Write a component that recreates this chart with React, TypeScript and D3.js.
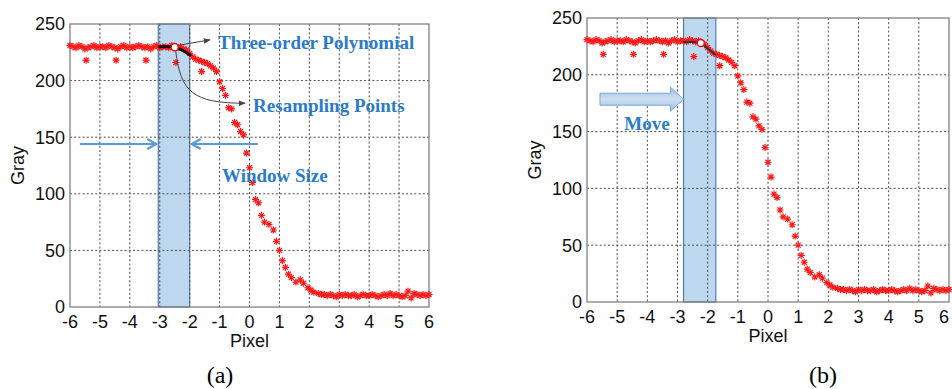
import * as d3 from 'd3';

// edge profile samples (same data in both panels)
const pixel = [
  -6.0, -5.9, -5.8, -5.7, -5.6, -5.5, -5.46, -5.4, -5.3, -5.2,
  -5.1, -5.0, -4.9, -4.8, -4.7, -4.6, -4.5, -4.46, -4.4, -4.3,
  -4.2, -4.1, -4.0, -3.9, -3.8, -3.7, -3.6, -3.5, -3.46, -3.4,
  -3.3, -3.2, -3.1, -3.0, -2.9, -2.8, -2.7, -2.6, -2.5, -2.46,
  -2.4, -2.3, -2.2, -2.1, -2.0, -1.9, -1.8, -1.7, -1.6, -1.6,
  -1.5, -1.4, -1.3, -1.2, -1.1, -1.0, -0.9, -0.8, -0.7, -0.6,
  -0.5, -0.4, -0.3, -0.2, -0.1, 0.0, 0.1, 0.2, 0.3, 0.4,
  0.5, 0.65, 0.8, 0.9, 1.0, 1.1, 1.2, 1.3, 1.4, 1.55,
  1.7, 1.8, 1.95, 2.05, 2.15, 2.3, 2.4, 2.5, 2.6, 2.7,
  2.8, 2.9, 3.0, 3.1, 3.2, 3.3, 3.4, 3.5, 3.6, 3.7,
  3.8, 3.9, 4.0, 4.1, 4.2, 4.3, 4.4, 4.5, 4.6, 4.7,
  4.8, 4.9, 5.0, 5.1, 5.2, 5.3, 5.4, 5.5, 5.6, 5.7,
  5.8, 5.9, 6.0,
];
const gray = [
  231, 230, 229, 231, 230, 228, 218, 229, 230, 231,
  229, 230, 230, 229, 231, 230, 229, 218, 228, 230,
  231, 229, 230, 229, 230, 231, 230, 229, 218, 230,
  228, 230, 231, 229, 230, 230, 229, 231, 230, 216,
  229, 230, 228, 227, 224, 221, 219, 218, 217, 208,
  216, 215, 213, 211, 208, 199, 193, 187, 176, 175,
  163, 161, 155, 152, 136, 123, 110, 95, 92, 81,
  75, 73, 68, 58, 50, 41, 35, 29, 26, 22,
  24, 21, 17, 15, 13, 12, 11, 11, 10, 11,
  10, 9, 11, 10, 11, 10, 10, 11, 9, 10,
  11, 10, 10, 11, 10, 9, 10, 11, 10, 12,
  10, 11, 10, 9, 10, 14, 8, 12, 11, 10,
  11, 10, 11,
];

const xTicks = [-6, -5, -4, -3, -2, -1, 0, 1, 2, 3, 4, 5, 6];
const yTicks = [0, 50, 100, 150, 200, 250];

// three-order polynomial fit inside the window
const fitPixelA = [-3.05, -2.55, -2.5, -2.25, -1.95];
const fitGrayA = [230, 230, 229.5, 227, 222];
const fitPixelB = [-2.8, -2.42, -2.23, -1.73];
const fitGrayB = [228.8, 228.8, 228, 217.5];

const windowA = [-3.05, -2.0];
const windowB = [-2.8, -1.73];
const resampleA = [-2.5, 229.5];
const resampleB = [-2.23, 228];

const SANS = '"Liberation Sans", Arial, sans-serif';
const SERIF = '"Liberation Serif", "Times New Roman", serif';
const TXT_BLUE = '#2b7bc9';
const ARROW_BLUE = '#5b9bd5';

const star = (x: number, y: number) =>
  `M${x - 3.5},${y}h7M${x},${y - 3.5}v7M${x - 2.5},${y - 2.5}l5,5M${x - 2.5},${y + 2.5}l5,-5`;

function Panel({ xs, ys, win, fitX, fitY, dot, fitColor, fitWidth, children }: any) {
  const [l, r] = xs.range();
  const [b, t] = ys.range();
  const line = d3.line<number>().x((d, i) => xs(fitX[i])).y((d) => ys(d));
  return (
    <g>
      <rect x={xs(win[0])} y={t} width={xs(win[1]) - xs(win[0])} height={b - t}
        fill="#bdd7ee" stroke="#4f7db0" strokeWidth={1.2} />
      {xTicks.slice(1, -1).map((v) => (
        <line key={'gx' + v} x1={xs(v)} x2={xs(v)} y1={t} y2={b}
          stroke="#4a4a4a" strokeWidth={1} strokeDasharray="2,2.2" />
      ))}
      {yTicks.slice(1, -1).map((v) => (
        <line key={'gy' + v} x1={l} x2={r} y1={ys(v)} y2={ys(v)}
          stroke="#4a4a4a" strokeWidth={1} strokeDasharray="2,2.2" />
      ))}
      <rect x={l} y={t} width={r - l} height={b - t} fill="none" stroke="#808080" strokeWidth={1.3} />
      {xTicks.map((v) => (
        <text key={'tx' + v} x={Math.min(xs(v), 944)} y={b + 21} textAnchor="middle"
          fontFamily={SANS} fontSize={18} fill="#111">{v}</text>
      ))}
      {yTicks.map((v) => (
        <text key={'ty' + v} x={l - 5} y={ys(v)} dy="0.35em" textAnchor="end"
          fontFamily={SANS} fontSize={18} fill="#111">{v}</text>
      ))}
      <text x={(l + r) / 2} y={b + 40} textAnchor="middle" fontFamily={SANS} fontSize={18} fill="#111">Pixel</text>
      <text transform={`translate(${l - 52},${(t + b) / 2}) rotate(-90)`} dy="0.35em" textAnchor="middle"
        fontFamily={SANS} fontSize={18} fill="#111">Gray</text>
      <path d={pixel.map((p, i) => star(xs(p), ys(gray[i]))).join('')}
        stroke="#ff1a1a" strokeWidth={1.2} fill="none" />
      <path d={line(fitY) || ''} fill="none" stroke={fitColor} strokeWidth={fitWidth} />
      <circle cx={xs(dot[0])} cy={ys(dot[1])} r={3.6} fill="#fff" stroke="#e01010" strokeWidth={1.5} />
      {children}
    </g>
  );
}

export default function App() {
  const xa = d3.scaleLinear().domain([-6, 6]).range([70, 429]);
  const ya = d3.scaleLinear().domain([0, 250]).range([307, 24]);
  const xb = d3.scaleLinear().domain([-6, 6]).range([587, 949]);
  const yb = d3.scaleLinear().domain([0, 250]).range([302, 18]);

  // annotation anchors for (a)
  const ca = [xa(resampleA[0]), ya(resampleA[1])];
  const arrowY = ya(144);
  const winL = xa(windowA[0]);
  const winR = xa(windowA[1]);

  // block arrow for (b)
  const bTip = xb(windowB[0]);
  const bTail = xb(-5.57);
  const bNeck = bTip - 13;
  const bY = yb(178.5);

  return (
    <svg width={952} height={389} style={{ position: 'absolute', left: 0, top: 0, background: '#fff' }}>
      <defs>
        <marker id="gh" viewBox="0 0 10 10" refX="9" refY="5" markerWidth="7" markerHeight="7" orient="auto">
          <path d="M0,1L10,5L0,9z" fill="#444" />
        </marker>
        <linearGradient id="mv" x1="0" y1="0" x2="0" y2="1">
          <stop offset="0" stopColor="#9dc0e4" />
          <stop offset="0.5" stopColor="#cfe0f2" />
          <stop offset="1" stopColor="#9dc0e4" />
        </linearGradient>
      </defs>

      <Panel xs={xa} ys={ya} win={windowA} fitX={fitPixelA} fitY={fitGrayA} dot={resampleA}
        fitColor="#111" fitWidth={3}>
        <path d={`M${ca[0] + 4},${ca[1] - 2}L${xa(-1.32)},${ya(236)}`} stroke="#444" strokeWidth={1}
          fill="none" markerEnd="url(#gh)" />
        <path d={`M${ca[0] + 1},${ca[1] + 4}C${ca[0] + 6},${ya(190)} ${xa(-1.9)},${ya(180)} ${xa(-0.15)},${ya(180)}`}
          stroke="#444" strokeWidth={1} fill="none" markerEnd="url(#gh)" />
        <text x={xa(-1.05)} y={ya(228)} fontFamily={SERIF} fontWeight="bold" fontSize={19} fill={TXT_BLUE}>
          Three-order Polynomial
        </text>
        <text x={xa(0.12)} y={ya(172)} fontFamily={SERIF} fontWeight="bold" fontSize={19} fill={TXT_BLUE}>
          Resampling Points
        </text>
        <text x={xa(-0.92)} y={ya(110)} fontFamily={SERIF} fontWeight="bold" fontSize={19} fill={TXT_BLUE}>
          Window Size
        </text>
        <path d={`M${xa(-5.67)},${arrowY}L${winL - 2},${arrowY}M${winL - 11},${arrowY - 5}L${winL - 2},${arrowY}L${winL - 11},${arrowY + 5}`}
          stroke={ARROW_BLUE} strokeWidth={2.2} fill="none" />
        <path d={`M${xa(0.28)},${arrowY}L${winR + 2},${arrowY}M${winR + 11},${arrowY - 5}L${winR + 2},${arrowY}L${winR + 11},${arrowY + 5}`}
          stroke={ARROW_BLUE} strokeWidth={2.2} fill="none" />
      </Panel>

      <Panel xs={xb} ys={yb} win={windowB} fitX={fitPixelB} fitY={fitGrayB} dot={resampleB}
        fitColor="#2d3440" fitWidth={2}>
        <path d={`M${bTail},${bY - 6}L${bNeck},${bY - 6}L${bNeck},${bY - 12}L${bTip},${bY}L${bNeck},${bY + 12}L${bNeck},${bY + 6}L${bTail},${bY + 6}Z`}
          fill="url(#mv)" stroke="#7aa6d3" strokeWidth={1} />
        <text x={xb(-4.01)} y={yb(151)} textAnchor="middle" fontFamily={SERIF} fontWeight="bold"
          fontSize={19} fill={TXT_BLUE}>Move</text>
      </Panel>

      <text x={220} y={383} textAnchor="middle" fontFamily={SERIF} fontSize={24} fill="#000">(a)</text>
      <text x={823} y={383} textAnchor="middle" fontFamily={SERIF} fontSize={24} fill="#000">(b)</text>
    </svg>
  );
}
